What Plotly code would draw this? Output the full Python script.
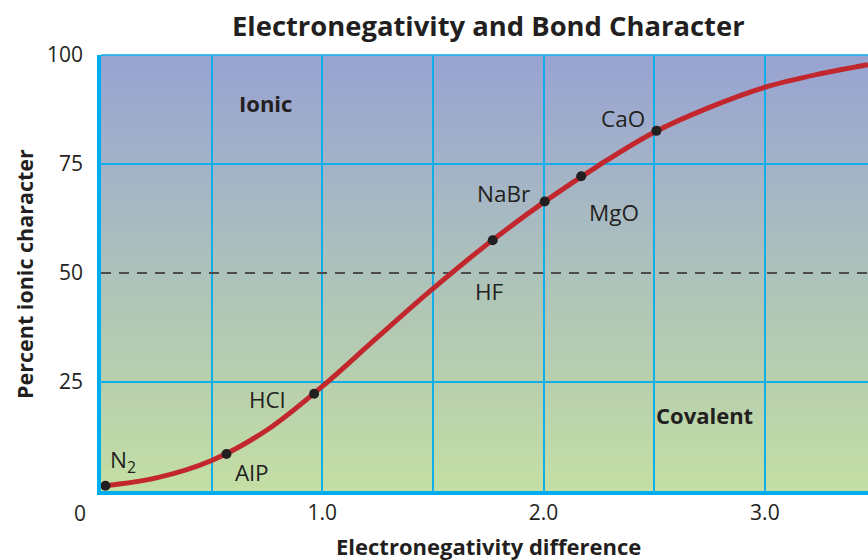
import plotly.graph_objects as go
from plotly.colors import sample_colorscale

# Percent ionic character versus electronegativity difference (smooth curve)
curve_x = [0.02, 0.25, 0.5, 0.75, 1.0, 1.25, 1.5, 1.75, 2.0, 2.25, 2.5,
           2.75, 3.0, 3.25, 3.466]
curve_y = [1.2, 3.0, 7.0, 14.0, 24.0, 35.3, 46.4, 56.8, 66.2, 74.7, 82.3,
           88.0, 92.6, 95.7, 97.8]

# Individual compounds plotted on the curve
compounds = ["N<sub>2</sub>", "AlP", "HCl", "HF", "NaBr", "MgO", "CaO"]
compound_x = [0.02, 0.567, 0.963, 1.77, 2.005, 2.17, 2.51]
compound_y = [1.2, 8.5, 22.3, 57.5, 66.4, 72.2, 82.6]

# Where each compound's name sits
label_x = [0.03, 0.68, 0.752, 1.755, 1.819, 2.32, 2.361]
label_y = [6.9, 4.2, 20.9, 45.7, 68.2, 63.8, 85.4]
label_anchor = ["left", "center", "center", "center", "center", "center", "center"]

x_ticks = [1, 2, 3]
x_tick_text = ["1.0", "2.0", "3.0"]
x_minor = [0.5, 1.5, 2.5]
y_ticks = [25, 50, 75, 100]
y_tick_text = ["25", "50", "75", "100"]
y_minor = [25, 75]
threshold = 50

X_MAX = 3.466
FONT = "Open Sans"
INK = "#231f20"
GRID = "#12aee8"

fig = go.Figure()

# Vertical colour gradient behind the grid (blue at the top, green at the bottom)
bg_scale = [[0.0, "#c4dfa4"], [0.25, "#b8cfae"], [0.5, "#adc2bb"],
            [0.75, "#a3b2c8"], [1.0, "#98a3d2"]]
n_strips = 200
strip_cols = sample_colorscale(bg_scale, [(i + 0.5) / n_strips for i in range(n_strips)])
shapes = []
for i, col in enumerate(strip_cols):
    shapes.append(dict(type="rect", layer="below", xref="paper", yref="y",
                       x0=0, x1=1, y0=100 * i / n_strips, y1=100 * (i + 1) / n_strips + 0.3,
                       fillcolor=col, line=dict(width=0)))
# thin top border of the plotting area
shapes.append(dict(type="line", layer="above", xref="paper", yref="paper",
                   x0=0, x1=1, y0=1, y1=1, line=dict(color=GRID, width=1.6)))

# dashed 50 % line
fig.add_trace(go.Scatter(x=[0, X_MAX], y=[threshold, threshold], mode="lines",
                         line=dict(color="#4d4d4d", width=1.8, dash="10px,8px"),
                         hoverinfo="skip", showlegend=False))

# the curve
fig.add_trace(go.Scatter(x=curve_x, y=curve_y, mode="lines",
                         line=dict(color="#c1272d", width=5, shape="spline", smoothing=1.0),
                         hoverinfo="skip", showlegend=False))

# compound points
fig.add_trace(go.Scatter(x=compound_x, y=compound_y, mode="markers",
                         marker=dict(color=INK, size=10),
                         text=compounds, showlegend=False))

annotations = []
for name, lx, ly, anc in zip(compounds, label_x, label_y, label_anchor):
    annotations.append(dict(x=lx, y=ly, xref="x", yref="y", text=name, showarrow=False,
                            xanchor=anc, yanchor="middle",
                            font=dict(family=FONT, size=22.5, color=INK)))

annotations += [
    dict(x=0.743, y=89.0, xref="x", yref="y", text="<b>Ionic</b>", showarrow=False,
         font=dict(family=FONT, size=22, color=INK)),
    dict(x=2.727, y=17.5, xref="x", yref="y", text="<b>Covalent</b>", showarrow=False,
         font=dict(family=FONT, size=22, color=INK)),
    # shared origin label
    dict(x=0, y=0, xref="x", yref="y", text="0", showarrow=False,
         xanchor="right", yanchor="top", xshift=-13, yshift=-6,
         font=dict(family=FONT, size=21, color=INK)),
    # axis titles
    dict(x=0.5055, y=-0.125, xref="paper", yref="paper",
         text="<b>Electronegativity difference</b>", showarrow=False,
         xanchor="center", yanchor="middle",
         font=dict(family=FONT, size=22, color=INK)),
    dict(x=-0.099, y=0.498, xref="paper", yref="paper",
         text="<b>Percent ionic character</b>", showarrow=False, textangle=-90,
         xanchor="center", yanchor="middle",
         font=dict(family=FONT, size=21.5, color=INK)),
    # title, placed 25 px below the top of the page
    dict(x=0.5055, y=1 + (55 - 25) / 436, xref="paper", yref="paper", yanchor="middle",
         text="<b>Electronegativity and Bond Character</b>", showarrow=False,
         font=dict(family=FONT, size=27.4, color=INK)),
]

fig.update_layout(
    width=868, height=560,
    margin=dict(l=101, r=0, t=55, b=69, pad=0),
    paper_bgcolor="white",
    plot_bgcolor="rgba(0,0,0,0)",
    shapes=shapes,
    annotations=annotations,
    font=dict(family=FONT, color=INK),
    xaxis=dict(range=[0, X_MAX], tickvals=x_ticks, ticktext=x_tick_text,
               showgrid=True, gridcolor=GRID, gridwidth=1.5,
               minor=dict(tickvals=x_minor, showgrid=True, gridcolor=GRID, gridwidth=1.5),
               showline=True, linecolor="#00aeef", linewidth=3.5,
               ticks="", ticklabelstandoff=0,
               tickfont=dict(family=FONT, size=21, color=INK), zeroline=False),
    yaxis=dict(range=[0, 100], tickvals=y_ticks, ticktext=y_tick_text,
               showgrid=False,
               minor=dict(tickvals=y_minor, showgrid=True, gridcolor=GRID, gridwidth=1.5),
               showline=True, linecolor="#00aeef", linewidth=3.5,
               ticks="", ticklabelstandoff=10,
               tickfont=dict(family=FONT, size=21, color=INK), zeroline=False),
)

fig.write_html("out.html")
